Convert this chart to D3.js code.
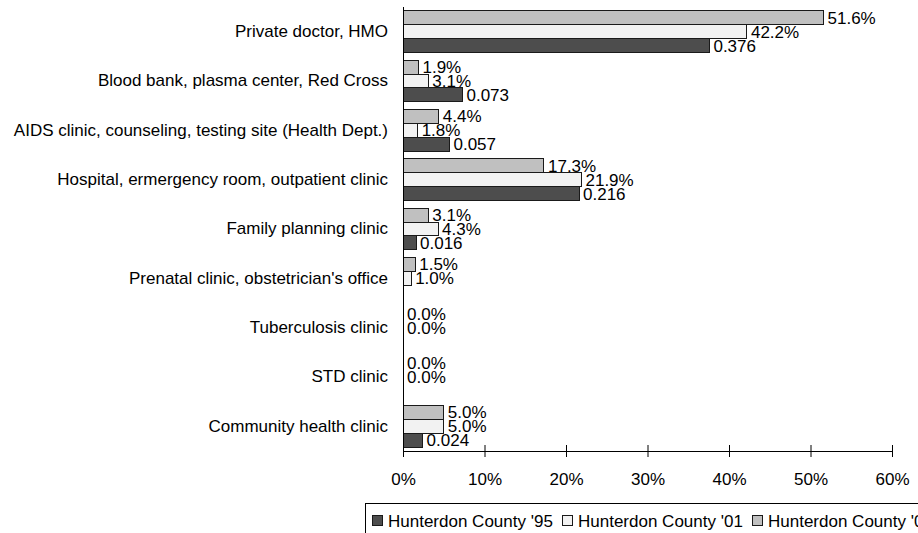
<!DOCTYPE html>
<html>
<head>
<meta charset="utf-8">
<script src="https://cdn.jsdelivr.net/npm/d3@7/dist/d3.min.js"></script>
<style>
  html, body { margin: 0; padding: 0; background: #fff; overflow: hidden; }
  svg { display: block; font-family: Arial, "Liberation Sans", sans-serif; }
</style>
</head>
<body>
<svg id="chart" width="918" height="533"></svg>
<script>
// Where people were tested, share of respondents
const categories = [
  "Private doctor, HMO",
  "Blood bank, plasma center, Red Cross",
  "AIDS clinic, counseling, testing site (Health Dept.)",
  "Hospital, ermergency room, outpatient clinic",
  "Family planning clinic",
  "Prenatal clinic, obstetrician's office",
  "Tuberculosis clinic",
  "STD clinic",
  "Community health clinic"
];
const seriesNames = ["Hunterdon County '95", "Hunterdon County '01", "Hunterdon County '06"];
const values95 = [0.376, 0.073, 0.057, 0.216, 0.016, null, null, null, 0.024];
const values01 = [0.422, 0.031, 0.018, 0.219, 0.043, 0.010, 0.000, 0.000, 0.050];
const values06 = [0.516, 0.019, 0.044, 0.173, 0.031, 0.015, 0.000, 0.000, 0.050];
const xTicks = [0, 0.1, 0.2, 0.3, 0.4, 0.5, 0.6];

const seriesColors = ["#4d4d4d", "#f2f2f2", "#c0c0c0"];
const labelFormats = [d3.format(".3f"), d3.format(".1%"), d3.format(".1%")];
const seriesValues = [values95, values01, values06];

const svg = d3.select("#chart");
const FONT = 17;
const FAMILY = "Arial, 'Liberation Sans', sans-serif";

const x = d3.scaleLinear().domain([0, 0.6]).range([403, 892]);
const y = d3.scaleBand().domain(categories).range([7, 451]).paddingInner(0.149).paddingOuter(0.0745);
// inside each category: first series at the bottom, last on top
const ySeries = d3.scaleBand().domain([2, 1, 0]).range([0, y.bandwidth()]);

// bars
seriesValues.forEach((vals, s) => {
  const data = categories.map((c, i) => ({ c, v: vals[i] })).filter(d => d.v !== null);
  svg.append("g").selectAll("rect").data(data).join("rect")
    .attr("x", x(0))
    .attr("y", d => y(d.c) + ySeries(s))
    .attr("width", d => x(d.v) - x(0))
    .attr("height", ySeries.bandwidth())
    .attr("fill", seriesColors[s])
    .attr("stroke", "#1a1a1a")
    .attr("stroke-width", 1)
    .attr("shape-rendering", "crispEdges");
});

// value labels
seriesValues.forEach((vals, s) => {
  const data = categories.map((c, i) => ({ c, v: vals[i] })).filter(d => d.v !== null);
  svg.append("g").selectAll("text").data(data).join("text")
    .attr("x", d => x(d.v) + 4)
    .attr("y", d => y(d.c) + ySeries(s) + ySeries.bandwidth() / 2)
    .attr("dy", "0.36em")
    .attr("font-size", FONT)
    .attr("fill", "#000")
    .text(d => labelFormats[s](d.v));
});

// category axis
const yAxis = svg.append("g").attr("transform", `translate(${x(0)},0)`)
  .call(d3.axisLeft(y).tickSize(0).tickPadding(15));
yAxis.select(".domain").attr("stroke", "#000").attr("d", `M0.5,${y.range()[0]}V${y.range()[1]}`);
yAxis.selectAll("text").attr("font-size", FONT).attr("font-family", FAMILY).attr("fill", "#000");

// value axis with ticks crossing the line
const xAxis = svg.append("g").attr("transform", `translate(0,${y.range()[1]})`)
  .call(d3.axisBottom(x).tickValues(xTicks).tickFormat(d3.format(".0%")).tickSizeInner(6).tickSizeOuter(0).tickPadding(15.5));
xAxis.select(".domain").attr("stroke", "#000");
xAxis.selectAll(".tick line").attr("stroke", "#000").attr("y1", -6);
xAxis.selectAll("text").attr("font-size", FONT).attr("font-family", FAMILY).attr("fill", "#000");

// legend
const legend = svg.append("g").attr("transform", "translate(365,503)");
legend.append("rect").attr("x", 0.5).attr("y", 0.5).attr("width", 620).attr("height", 40)
  .attr("fill", "#fff").attr("stroke", "#000");
const itemX = [7, 197, 387];
seriesNames.forEach((name, s) => {
  const it = legend.append("g").attr("transform", `translate(${itemX[s]},0)`);
  it.append("rect").attr("x", 0.5).attr("y", 12.5).attr("width", 10).attr("height", 10)
    .attr("fill", seriesColors[s]).attr("stroke", "#1a1a1a");
  it.append("text").attr("x", 16).attr("y", 17.5).attr("dy", "0.36em")
    .attr("font-size", FONT).attr("fill", "#000").text(name);
});
</script>
</body>
</html>
